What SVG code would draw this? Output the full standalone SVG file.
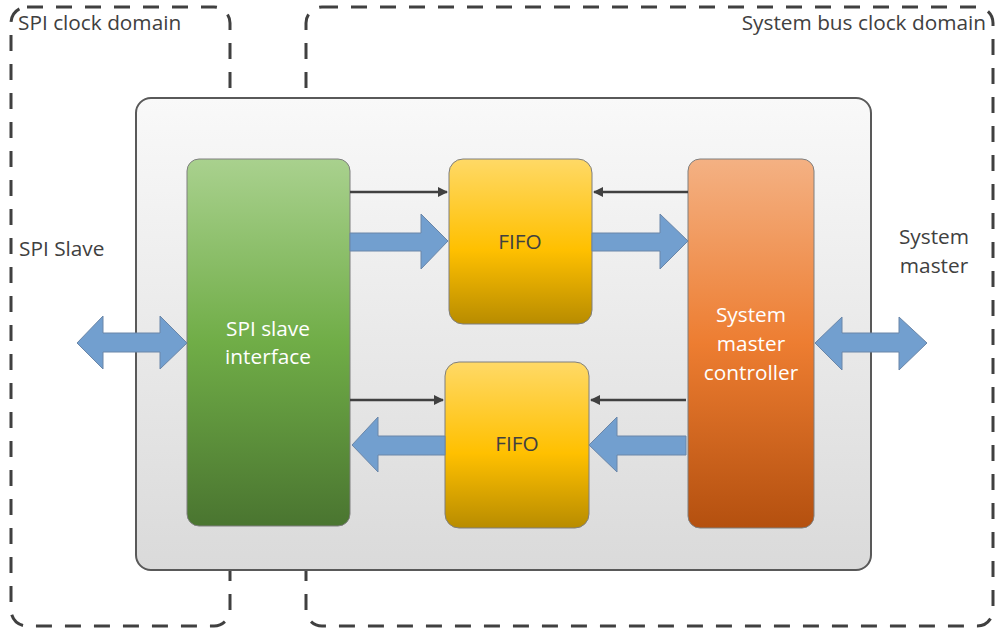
<svg xmlns="http://www.w3.org/2000/svg" width="1004" height="635" viewBox="0 0 1004 635">
<defs>
<linearGradient id="gBg" x1="0" y1="0" x2="0" y2="1"><stop offset="0" stop-color="#f9f9f9"/><stop offset="1" stop-color="#dadada"/></linearGradient>
<linearGradient id="gGreen" x1="0" y1="0" x2="0" y2="1"><stop offset="0" stop-color="#a9d18e"/><stop offset="0.5" stop-color="#70ad47"/><stop offset="1" stop-color="#4a7530"/></linearGradient>
<linearGradient id="gYellow" x1="0" y1="0" x2="0" y2="1"><stop offset="0" stop-color="#ffd966"/><stop offset="0.55" stop-color="#ffc000"/><stop offset="1" stop-color="#b88c00"/></linearGradient>
<linearGradient id="gOrange" x1="0" y1="0" x2="0" y2="1"><stop offset="0" stop-color="#f4b183"/><stop offset="0.5" stop-color="#ed7d31"/><stop offset="1" stop-color="#b4500f"/></linearGradient>
<marker id="ah" markerWidth="10" markerHeight="10" refX="9" refY="5" orient="auto" markerUnits="userSpaceOnUse"><path d="M0,0 L10,5 L0,10 z" fill="#404040"/></marker>
<style>
.dom{fill:none;stroke:#404040;stroke-width:3;stroke-dasharray:16 13}
.t{font-family:"Segoe UI","Open Sans","Noto Sans",sans-serif;font-size:20.8px;fill:#404040}
.w{font-family:"Segoe UI","Open Sans","Noto Sans",sans-serif;font-size:20.8px;fill:#ffffff}
.blk{stroke:#7f7f7f;stroke-width:1}
.ba{fill:#729fcf;stroke:#6a86a8;stroke-width:1}
.thin{stroke:#404040;stroke-width:2.5;fill:none}
</style>
</defs>
<g id="spi-domain"><rect class="dom" x="11" y="7" width="219" height="619" rx="16"/><text class="t" x="18" y="30">SPI clock domain</text></g>
<g id="sys-domain"><rect class="dom" x="306" y="7" width="687" height="619" rx="16"/><text class="t" x="986" y="30" text-anchor="end">System bus clock domain</text></g>
<g id="container"><rect x="136" y="98" width="735" height="472" rx="15" fill="url(#gBg)" stroke="#595959" stroke-width="2"/></g>
<g id="spi-slave-label"><text class="t" x="19" y="256">SPI Slave</text></g>
<g id="system-master-label"><text class="t" x="934" y="244" text-anchor="middle">System</text><text class="t" x="934" y="273" text-anchor="middle">master</text></g>
<g id="spi-slave-interface"><rect class="blk" x="187" y="159" width="163" height="367" rx="12" fill="url(#gGreen)"/><text class="w" x="268" y="336" text-anchor="middle">SPI slave</text><text class="w" x="268" y="364" text-anchor="middle">interface</text></g>
<g id="fifo-top"><rect class="blk" x="449" y="159" width="143" height="165" rx="14" fill="url(#gYellow)"/><text class="t" x="520" y="249" text-anchor="middle">FIFO</text></g>
<g id="fifo-bottom"><rect class="blk" x="445" y="362" width="144" height="166" rx="14" fill="url(#gYellow)"/><text class="t" x="517" y="451" text-anchor="middle">FIFO</text></g>
<g id="system-master-controller"><rect class="blk" x="688" y="159" width="126" height="369" rx="12" fill="url(#gOrange)"/><text class="w" x="751" y="322" text-anchor="middle">System</text><text class="w" x="751" y="351" text-anchor="middle">master</text><text class="w" x="751" y="380" text-anchor="middle">controller</text></g>
<g id="connectors">
<line class="thin" x1="350" y1="192" x2="447" y2="192" marker-end="url(#ah)"/>
<line class="thin" x1="688" y1="192" x2="594" y2="192" marker-end="url(#ah)"/>
<line class="thin" x1="350" y1="400" x2="443" y2="400" marker-end="url(#ah)"/>
<line class="thin" x1="686" y1="400" x2="591" y2="400" marker-end="url(#ah)"/>
<path class="ba" d="M350,233 L421,233 L421,214 L448,241 L421,269 L421,251 L350,251 z"/>
<path class="ba" d="M592,233 L660,233 L660,214 L688,241 L660,269 L660,251 L592,251 z"/>
<path class="ba" d="M445,436 L378,436 L378,417 L352,445 L378,472 L378,455 L445,455 z"/>
<path class="ba" d="M686,436 L617,436 L617,417 L589,445 L617,472 L617,455 L686,455 z"/>
<path class="ba" d="M77,343 L103,316 L103,333 L160,333 L160,316 L187,343 L160,369 L160,352 L103,352 L103,369 z"/>
<path class="ba" d="M815,343 L842,317 L842,333 L899,333 L899,317 L927,343 L899,370 L899,352 L842,352 L842,370 z"/>
</g>
</svg>
